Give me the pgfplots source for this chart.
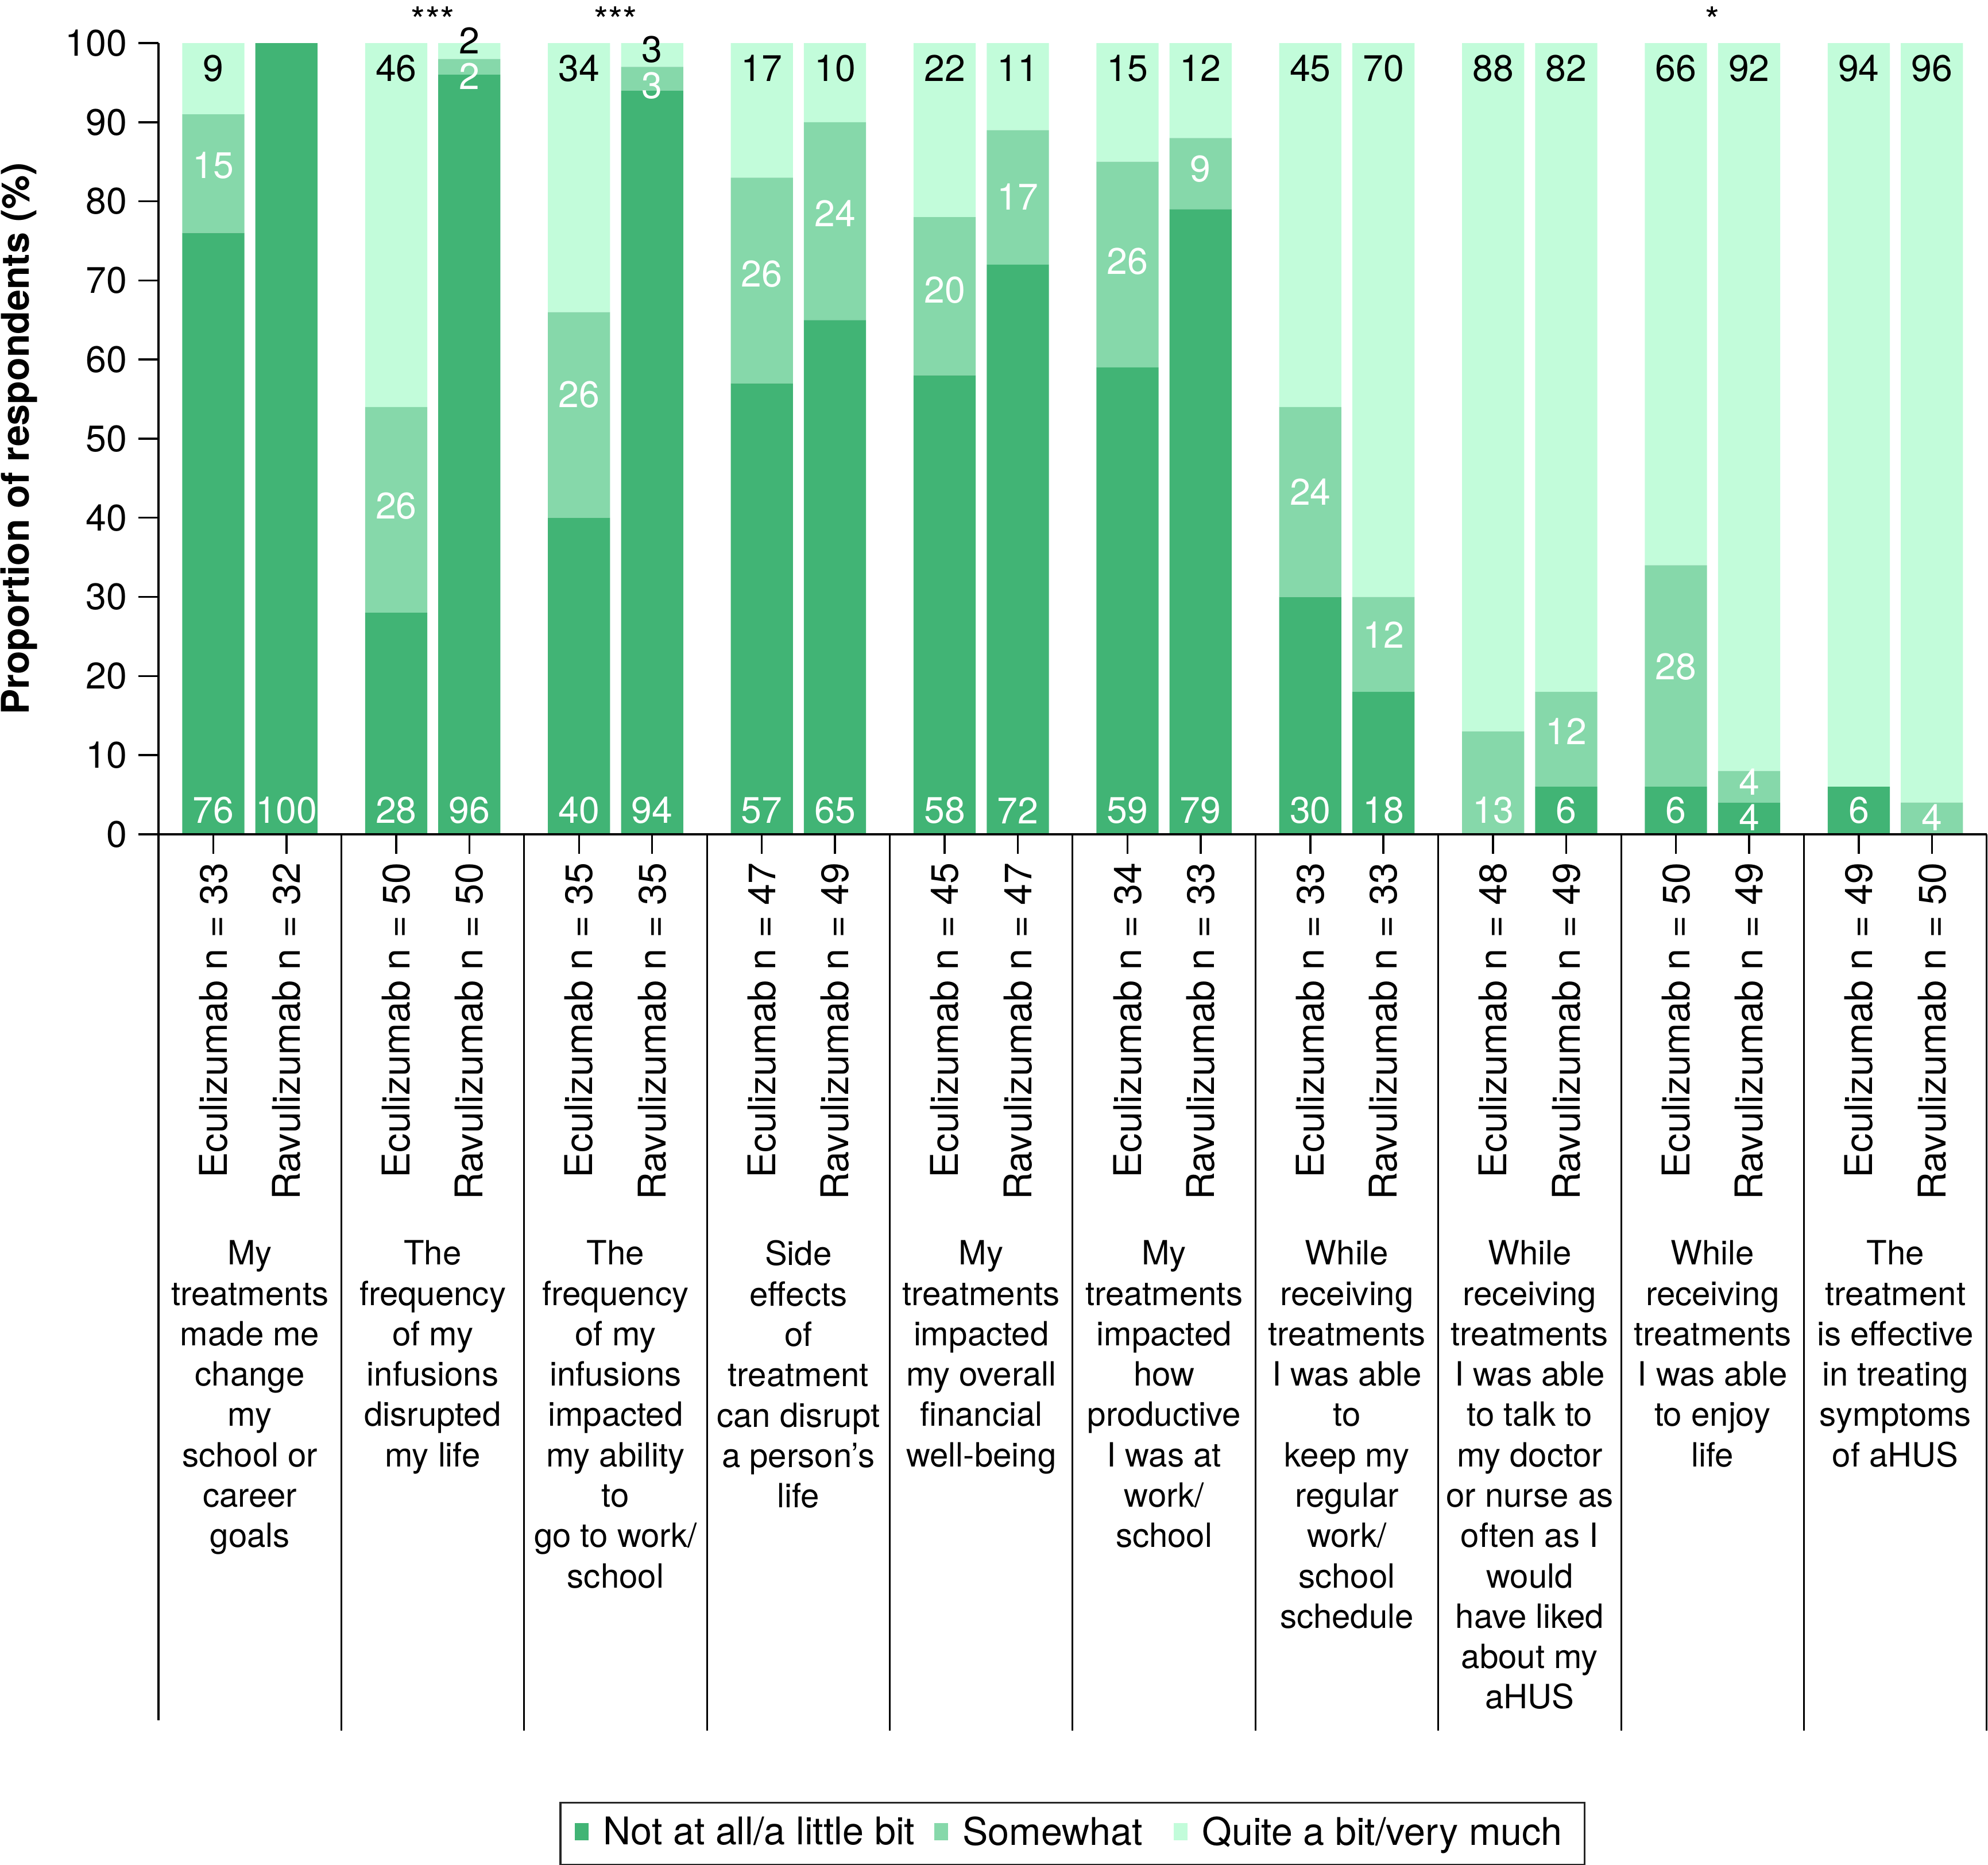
\documentclass[border=0pt]{standalone}
\usepackage{pgfplots}
\pgfplotsset{compat=1.18}
\usepackage{pgfplotstable}
\usepackage{fontspec}
\setmainfont{TeX Gyre Heros}
\definecolor{cDark}{HTML}{41B475}
\definecolor{cMid}{HTML}{86D8AA}
\definecolor{cLight}{HTML}{C2FCDA}
\newcommand\fa{\fontsize{9.3}{11}\selectfont}
\newcommand\fb{\fontsize{9.6}{11}\selectfont}
\newcommand\fc{\fontsize{8.4}{10.15}\selectfont}

\pgfplotstableread{
x a b c
0.3 76 15 9
0.7 100 0 0
1.3 28 26 46
1.7 96 2 2
2.3 40 26 34
2.7 94 3 3
3.3 57 26 17
3.7 65 25 10
4.3 58 20 22
4.7 72 17 11
5.3 59 26 15
5.7 79 9 12
6.3 30 24 46
6.7 18 12 70
7.3 0 13 87
7.7 6 12 82
8.3 6 28 66
8.7 4 4 92
9.3 6 0 94
9.7 0 4 96
}\bars

\pgfplotstableread{
x y lab
0.3 3 76
0.7 3 100
1.3 3 28
1.7 3 96
2.3 3 40
2.7 3 94
3.3 3 57
3.7 3 65
4.3 3 58
4.7 3 72
5.3 3 59
5.7 3 79
6.3 3 30
6.7 3 18
7.3 3 13
7.7 3 6
8.3 3 6
8.7 2.1 4
9.3 3 6
9.7 2.1 4
0.3 84.5 15
1.3 41.5 26
1.7 95.8 2
2.3 55.6 26
2.7 94.6 3
3.3 70.8 26
3.7 78.5 24
4.3 68.8 20
4.7 80.6 17
5.3 72.4 26
5.7 84.1 9
6.3 43.3 24
6.7 25.2 12
7.7 13.0 12
8.3 21.2 28
8.7 6.6 4
}\whitelabels

\pgfplotstableread{
x y lab
0.3 96.8 9
1.3 96.8 46
1.7 100.3 2
2.3 96.8 34
2.7 99.2 3
3.3 96.8 17
3.7 96.8 10
4.3 96.8 22
4.7 96.8 11
5.3 96.8 15
5.7 96.8 12
6.3 96.8 45
6.7 96.8 70
7.3 96.8 88
7.7 96.8 82
8.3 96.8 66
8.7 96.8 92
9.3 96.8 94
9.7 96.8 96
1.5 102.9 ***
2.5 102.9 ***
8.5 102.9 *
}\blacklabels

\begin{document}
\begin{tikzpicture}
\begin{axis}[name=main,
  scale only axis, width=459.82pt, height=198.98pt,
  xmin=0, xmax=10, ymin=0, ymax=100,
  ybar stacked, bar width=0.34,
  axis x line*=bottom, axis y line*=left,
  axis line style={line width=0.5pt, black},
  tick align=outside, major tick length=5pt,
  tick style={line width=0.5pt, black},
  /pgf/number format/assume math mode=true,
  ytick={0,10,...,100},
  yticklabel style={font=\fa, inner sep=0pt, xshift=-2.7pt},
  xtick={0.3,0.7,1.3,1.7,2.3,2.7,3.3,3.7,4.3,4.7,5.3,5.7,6.3,6.7,7.3,7.7,8.3,8.7,9.3,9.7},
  xticklabels={{Eculizumab n = 33},{Ravulizumab n = 32},{Eculizumab n = 50},{Ravulizumab n = 50},{Eculizumab n = 35},{Ravulizumab n = 35},{Eculizumab n = 47},{Ravulizumab n = 49},{Eculizumab n = 45},{Ravulizumab n = 47},{Eculizumab n = 34},{Ravulizumab n = 33},{Eculizumab n = 33},{Ravulizumab n = 33},{Eculizumab n = 48},{Ravulizumab n = 49},{Eculizumab n = 50},{Ravulizumab n = 49},{Eculizumab n = 49},{Ravulizumab n = 50}},
  xticklabel style={font=\fb, inner sep=0pt, yshift=-2pt, rotate=90, anchor=east},
  ylabel={Proportion of respondents (\%)},
  every axis y label/.style={at={(axis description cs:0,0.5)}, xshift=-35.1pt, rotate=90, anchor=center, font=\fb\bfseries},
  legend columns=3,
  legend style={at={(0.5,0)}, anchor=center, yshift=-251.4pt, draw=black!85, line width=0.5pt, font=\fb, inner xsep=3.6pt, inner ysep=1.5pt,
    /tikz/every even column/.append style={column sep=2.8pt}},
  legend image code/.code={\fill[#1] (0pt,-1.6pt) rectangle (3.5pt,2.7pt); \path (5.2pt,0pt);},
  clip=false,
]
\addplot[fill=cDark, draw=none] table[x=x, y=a] {\bars};
\addplot[fill=cMid, draw=none] table[x=x, y=b] {\bars};
\addplot[fill=cLight, draw=none] table[x=x, y=c] {\bars};
\legend{Not at all/a little bit, Somewhat\kern3pt\mbox{}, Quite a bit/very much}
\end{axis}

\begin{axis}[
  scale only axis, width=459.82pt, height=198.98pt,
  xmin=0, xmax=10, ymin=0, ymax=100,
  axis x line*=bottom, axis y line=none,
  axis line style={line width=0.5pt, black},
  ytick=\empty,
  xtick={0.5,1.5,...,9.5},
  major tick length=0pt, xtick style={draw=none},
  xticklabels={{My\\treatments\\made me\\change\\my\\school or\\career\\goals},
    {The\\frequency\\of my\\infusions\\disrupted\\my life},
    {The\\frequency\\of my\\infusions\\impacted\\my ability\\to\\go to work/\\school},
    {Side\\effects\\of\\treatment\\can disrupt\\a person’s\\life},
    {My\\treatments\\impacted\\my overall\\financial\\well-being},
    {My\\treatments\\impacted\\how\\productive\\I was at\\work/\\school},
    {While\\receiving\\treatments\\I was able\\to\\keep my\\regular\\work/\\school\\schedule},
    {While\\receiving\\treatments\\I was able\\to talk to\\my doctor\\or nurse as\\often as I\\would\\have liked\\about my\\aHUS},
    {While\\receiving\\treatments\\I was able\\to enjoy\\life},
    {The\\treatment\\is effective\\in treating\\symptoms\\of aHUS}},
  xticklabel style={font=\fc, align=center, anchor=north, inner sep=0pt, yshift=-102.0pt},
  clip=false,
]
\addplot[black, line width=0.45pt, forget plot] coordinates {(0,0) (0,-112)};
\pgfplotsinvokeforeach{1,...,10}{
  \addplot[black, line width=0.45pt, forget plot] coordinates {(#1,0) (#1,-113.3)};
}
\addplot[draw=none, mark=none, nodes near coords, point meta=explicit symbolic,
  every node near coord/.style={anchor=center, text=white, font=\fa, inner sep=0pt}]
  table[x=x, y=y, meta=lab] {\whitelabels};
\addplot[draw=none, mark=none, nodes near coords, point meta=explicit symbolic,
  every node near coord/.style={anchor=center, text=black, font=\fa, inner sep=0pt}]
  table[x=x, y=y, meta=lab] {\blacklabels};
\end{axis}
\pgfresetboundingbox
\path[use as bounding box] ([shift={(-39.86pt,-259.25pt)}]main.south west) rectangle ([shift={(0.32pt,10.84pt)}]main.north east);
\end{tikzpicture}
\end{document}
